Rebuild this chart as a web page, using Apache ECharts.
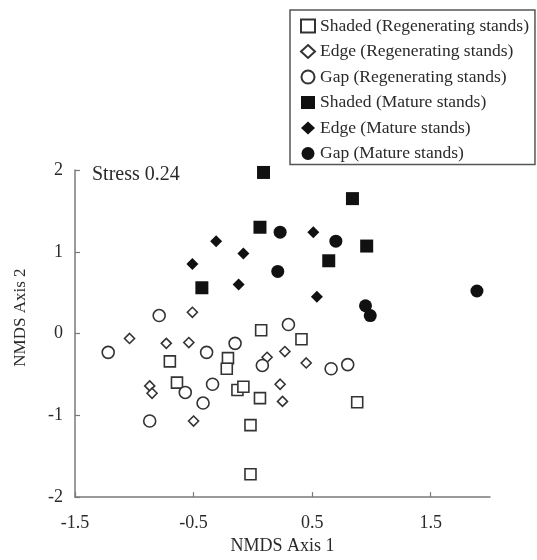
<!DOCTYPE html>
<html>
<head>
<meta charset="utf-8">
<script src="https://cdn.jsdelivr.net/npm/echarts@6/dist/echarts.min.js"></script>
<style>
  html, body { margin: 0; padding: 0; background: #fff; }
  #chart { width: 537px; height: 560px; }
</style>
</head>
<body>
<div id="chart"></div>
<script>
// ---- Data (NMDS axis 1, NMDS axis 2) ----
const shadedRegen = [[0.07,0.04],[0.41,-0.07],[-0.70,-0.34],[-0.21,-0.30],[-0.22,-0.43],[-0.64,-0.60],[-0.13,-0.69],[-0.08,-0.65],[0.06,-0.79],[-0.02,-1.12],[-0.02,-1.72],[0.88,-0.84]];
const edgeRegen = [[-0.51,0.26],[-1.04,-0.06],[-0.73,-0.12],[-0.54,-0.11],[0.27,-0.22],[0.12,-0.29],[0.45,-0.36],[-0.87,-0.64],[-0.85,-0.73],[0.23,-0.62],[0.25,-0.83],[-0.50,-1.07]];
const gapRegen = [[0.30,0.11],[-0.79,0.22],[-1.22,-0.23],[-0.39,-0.23],[-0.15,-0.12],[0.08,-0.39],[0.66,-0.43],[0.80,-0.38],[-0.57,-0.72],[-0.34,-0.62],[-0.42,-0.85],[-0.87,-1.07]];
const shadedMature = [[0.09,1.97],[0.84,1.65],[0.06,1.30],[0.96,1.07],[0.64,0.89],[-0.43,0.56]];
const edgeMature = [[0.51,1.24],[-0.31,1.13],[-0.08,0.98],[-0.51,0.85],[-0.12,0.60],[0.54,0.45]];
const gapMature = [[0.23,1.24],[0.70,1.13],[0.21,0.76],[1.89,0.52],[0.95,0.34],[0.99,0.22]];

const seriesNames = [
  'Shaded (Regenerating stands)',
  'Edge (Regenerating stands)',
  'Gap (Regenerating stands)',
  'Shaded (Mature stands)',
  'Edge (Mature stands)',
  'Gap (Mature stands)'
];
const stressLabel = 'Stress 0.24';
const xTitle = 'NMDS Axis 1';
const yTitle = 'NMDS Axis 2';

const FONT = '"Liberation Serif", "DejaVu Serif", serif';
const TXT = '#2a2a2a';
const AX = '#7a7a7a';

function mk(name, data, symbol, size, filled) {
  return {
    name: name,
    type: 'scatter',
    data: data,
    symbol: symbol,
    symbolSize: size,
    itemStyle: filled
      ? { color: '#111', borderColor: '#111', borderWidth: 0, opacity: 1 }
      : { color: '#fff', borderColor: '#333', borderWidth: 1.6, opacity: 1 },
    emphasis: { disabled: true },
    z: filled ? 3 : 2
  };
}

const chart = echarts.init(document.getElementById('chart'), null, { renderer: 'canvas' });
chart.setOption({
  animation: false,
  backgroundColor: '#fff',
  textStyle: { fontFamily: FONT },
  grid: { left: 75, right: 47, top: 170, bottom: 61, containLabel: false },
  legend: {
    orient: 'vertical',
    left: 290,
    top: 10,
    padding: [7, 6, 2, 10],
    itemWidth: 14,
    itemHeight: 13,
    itemGap: 7.5,
    borderColor: '#555',
    borderWidth: 1.5,
    textStyle: { fontFamily: FONT, fontSize: 17.5, lineHeight: 18, color: TXT },
    data: seriesNames,
    selectedMode: false
  },
  xAxis: {
    type: 'value',
    min: -1.5,
    max: 2.0,
    interval: 1,
    name: xTitle,
    nameLocation: 'middle',
    nameGap: 34,
    nameTextStyle: { fontFamily: FONT, fontSize: 18, color: TXT },
    axisLine: { show: true, onZero: false, lineStyle: { color: AX, width: 1.5 } },
    axisTick: { show: true, inside: true, length: 5, lineStyle: { color: AX, width: 1.2 } },
    axisLabel: {
      fontFamily: FONT, fontSize: 18, color: TXT, margin: 17,
      showMaxLabel: false,
      formatter: function (v) { return Math.abs(v - 2) < 1e-9 ? '' : String(v); }
    },
    splitLine: { show: false }
  },
  yAxis: {
    type: 'value',
    min: -2,
    max: 2,
    interval: 1,
    name: yTitle,
    nameLocation: 'middle',
    nameGap: 46,
    nameRotate: 90,
    nameTextStyle: { fontFamily: FONT, fontSize: 17, color: TXT, padding: [0, 0, 0, 32] },
    axisLine: { show: true, onZero: false, lineStyle: { color: AX, width: 1.5 } },
    axisTick: { show: true, inside: true, length: 5, lineStyle: { color: AX, width: 1.2 } },
    axisLabel: { fontFamily: FONT, fontSize: 18, color: TXT, margin: 12 },
    splitLine: { show: false }
  },
  graphic: [
    {
      type: 'text',
      left: 92,
      top: 165,
      style: { text: stressLabel, font: '20px ' + FONT, fill: TXT }
    }
  ],
  series: [
    mk(seriesNames[0], shadedRegen, 'rect', 11, false),
    mk(seriesNames[1], edgeRegen, 'diamond', 10, false),
    mk(seriesNames[2], gapRegen, 'circle', 12, false),
    mk(seriesNames[3], shadedMature, 'rect', 13, true),
    mk(seriesNames[4], edgeMature, 'diamond', 12, true),
    mk(seriesNames[5], gapMature, 'circle', 13, true)
  ]
});
</script>
</body>
</html>
